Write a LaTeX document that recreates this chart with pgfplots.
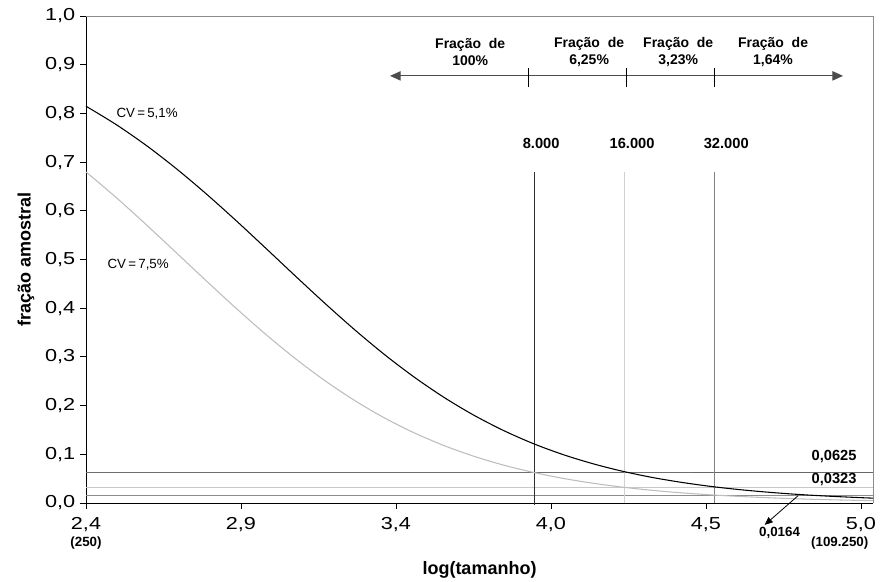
\documentclass[border=0pt]{standalone}
\usepackage{fontspec}
\setmainfont{Liberation Sans}
\newfontfamily\widesans[FakeStretch=1.25]{Liberation Sans}
\usepackage{pgfplots}
\pgfplotsset{compat=1.18}
\usetikzlibrary{arrows.meta}

\definecolor{cvlight}{HTML}{BDBDBD}
\definecolor{hdark}{HTML}{6E6E6E}
\definecolor{hlight}{HTML}{C8C8C8}
\definecolor{hmid}{HTML}{8C8C8C}
\definecolor{vdark}{HTML}{303030}
\definecolor{vlight}{HTML}{D0D0D0}
\definecolor{vmid}{HTML}{808080}
\definecolor{frame}{HTML}{8C8C8C}

\begin{document}
\begin{tikzpicture}
\begin{axis}[
  at={(0,0)}, anchor=south west,
  scale only axis, width=590.25pt, height=365.25pt,
  xmin=2.39794, xmax=5.03842, ymin=0, ymax=1,
  clip=false,
  axis x line*=bottom, axis y line*=left,
  axis line style={black, line width=0.6pt},
  tick align=outside, major tick length=4.5pt,
  tick style={black, line width=0.6pt},
  /pgf/number format/assume math mode=true,
  xtick={2.39794,2.91794,3.43794,3.95794,4.47794,4.99794},
  xticklabels={{2,4},{2,9},{3,4},{4,0},{4,5},{5,0}},
  ytick={0,0.1,0.2,0.3,0.4,0.5,0.6,0.7,0.8,0.9,1.0},
  yticklabel style={font=\widesans\fontsize{13}{13}\selectfont,
    /pgf/number format/.cd, fixed, fixed zerofill, precision=1, use comma},
  xticklabel style={font=\widesans\fontsize{13}{13}\selectfont, anchor=center, yshift=-12pt},
  ylabel={\bfseries fração amostral},
  ylabel style={font=\fontsize{13.5}{13.5}\selectfont, at={(axis description cs:0,0.5)}, anchor=center, yshift=45pt},
  xlabel={\bfseries log(tamanho)},
  xlabel style={font=\fontsize{13.5}{13.5}\selectfont, at={(axis description cs:0.5,0)}, anchor=center, yshift=-50pt},
]
% plot frame: top and right edges in gray
\draw[frame, line width=0.6pt] (rel axis cs:0,1) -- (rel axis cs:1,1) -- (rel axis cs:1,0);

% reference fractions
\addplot[hmid, line width=0.7pt] coordinates {(2.39794,0.0164) (5.03842,0.0164)};
\addplot[hlight, line width=0.7pt] coordinates {(2.39794,0.0323) (5.03842,0.0323)};
\addplot[hdark, line width=0.7pt] coordinates {(2.39794,0.0625) (5.03842,0.0625)};
\addplot[hdark, line width=1.1pt] coordinates {(2.70,0.0625) (5.03842,0.0625)};
\addplot[black!60, line width=1.1pt] coordinates {(4.43,0.0625) (5.03842,0.0625)};

% population sizes 8.000, 16.000 and 32.000
\addplot[vdark, line width=0.8pt] coordinates {(3.90309,-0.005) (3.90309,0.68)};
\addplot[vlight, line width=0.8pt] coordinates {(4.20412,0) (4.20412,0.68)};
\addplot[vmid, line width=0.8pt] coordinates {(4.50515,0) (4.50515,0.68)};

% CV = 7,5%
\addplot[cvlight, line width=0.8pt, smooth] coordinates {
(2.39794,0.6799) (2.5,0.6268) (2.6,0.5715) (2.7,0.5144) (2.8,0.4570)
(2.9,0.4007) (3.0,0.3468) (3.1,0.2967) (3.2,0.2510) (3.3,0.2102)
(3.4,0.1745) (3.5,0.1438) (3.6,0.1177) (3.7,0.0958) (3.8,0.0776)
(3.9,0.0627) (4.0,0.0504) (4.1,0.0405) (4.2,0.0324) (4.3,0.0259)
(4.4,0.0207) (4.5,0.0165) (4.6,0.0132) (4.7,0.0105) (4.8,0.0083)
(4.9,0.0066) (5.0,0.0053) (5.03842,0.0048)};

% CV = 5,1%
\addplot[black, line width=0.8pt, smooth] coordinates {
(2.39794,0.8148) (2.5,0.7767) (2.6,0.7343) (2.7,0.6870) (2.8,0.6355)
(2.9,0.5807) (3.0,0.5238) (3.1,0.4663) (3.2,0.4097) (3.3,0.3554)
(3.4,0.3045) (3.5,0.2581) (3.6,0.2165) (3.7,0.1800) (3.8,0.1485)
(3.9,0.1216) (4.0,0.0991) (4.1,0.0804) (4.2,0.0649) (4.3,0.0522)
(4.4,0.0420) (4.5,0.0336) (4.6,0.0269) (4.7,0.0215) (4.8,0.0171)
(4.9,0.0137) (5.0,0.0109) (5.03842,0.0100)};

% curve labels
\node[font=\fontsize{10}{10}\selectfont] at (axis cs:2.603,0.80) {CV\,=\,5,1\%};
\node[font=\fontsize{10}{10}\selectfont] at (axis cs:2.573,0.489) {CV\,=\,7,5\%};

% population size labels
\node[font=\bfseries\fontsize{11}{11}\selectfont] at (axis cs:3.925,0.739) {8.000};
\node[font=\bfseries\fontsize{11}{11}\selectfont] at (axis cs:4.230,0.739) {16.000};
\node[font=\bfseries\fontsize{11}{11}\selectfont] at (axis cs:4.546,0.739) {32.000};

% fraction labels on the right
\node[font=\bfseries\fontsize{11}{11}\selectfont] at (axis cs:4.908,0.0945) {0,0625};
\node[font=\bfseries\fontsize{11}{11}\selectfont] at (axis cs:4.908,0.0472) {0,0323};
\draw[-{Triangle[length=6pt,width=5pt]}, line width=0.6pt] (axis cs:4.787,0.015) -- (axis cs:4.675,-0.045);
\node[font=\bfseries\fontsize{10}{10}\selectfont] at (axis cs:4.725,-0.062) {0,0164};

% sampling fraction ranges
\draw[{Triangle[length=8pt,width=7pt]}-{Triangle[length=8pt,width=7pt]}, line width=0.8pt, black!70]
  (axis cs:3.418,0.877) -- (axis cs:4.938,0.877);
\draw[line width=0.6pt] (axis cs:3.881,0.854) -- (axis cs:3.881,0.893);
\draw[line width=0.6pt] (axis cs:4.210,0.854) -- (axis cs:4.210,0.893);
\draw[line width=0.6pt] (axis cs:4.505,0.854) -- (axis cs:4.505,0.893);
\node[font=\bfseries\fontsize{10.5}{12.75}\selectfont, align=center] at (axis cs:3.687,0.927) {Fração\ \ de\\100\%};
\node[font=\bfseries\fontsize{10.5}{12.75}\selectfont, align=center] at (axis cs:4.086,0.927) {Fração\ \ de\\6,25\%};
\node[font=\bfseries\fontsize{10.5}{12.75}\selectfont, align=center] at (axis cs:4.385,0.927) {Fração\ \ de\\3,23\%};
\node[font=\bfseries\fontsize{10.5}{12.75}\selectfont, align=center] at (axis cs:4.703,0.927) {Fração\ \ de\\1,64\%};

% population sizes at the axis ends
\node[font=\bfseries\fontsize{10}{10}\selectfont] at ([yshift=-30pt]axis cs:2.39794,0) {(250)};
\node[font=\bfseries\fontsize{10}{10}\selectfont, anchor=east] at ([yshift=-30pt]axis cs:5.03842,0) {(109.250)};
\end{axis}
\pgfresetboundingbox
\path[use as bounding box] (-64.5pt,-59.25pt) rectangle (603pt,377.25pt);
\end{tikzpicture}
\end{document}
